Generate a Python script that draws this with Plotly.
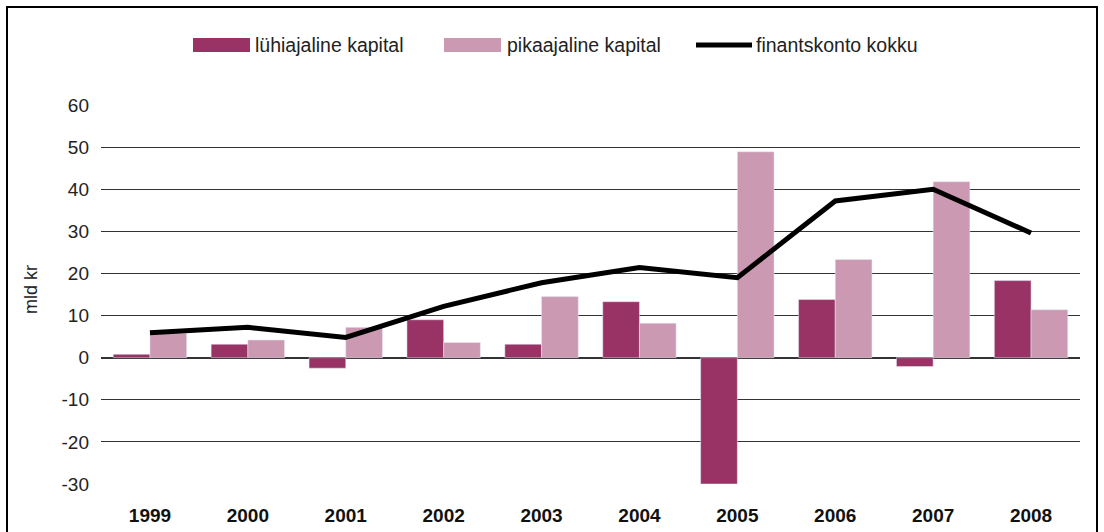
import plotly.graph_objects as go

years = ['1999', '2000', '2001', '2002', '2003', '2004', '2005', '2006', '2007', '2008']
luhiajaline = [0.8, 3.2, -2.5, 9.0, 3.2, 13.3, -30.0, 13.8, -2.1, 18.3]
pikaajaline = [5.8, 4.2, 7.2, 3.6, 14.5, 8.2, 48.9, 23.3, 41.8, 11.4]
finantskonto = [5.9, 7.2, 4.8, 12.2, 17.8, 21.4, 19.0, 37.2, 40.0, 29.6]
y_ticks = [-30, -20, -10, 0, 10, 20, 30, 40, 50, 60]
y_ticktext = ['-30', '-20', '-10', '0', '10', '20', '30', '40', '50', '60']

names = ['lühiajaline kapital', 'pikaajaline kapital', 'finantskonto kokku']
dark = '#993366'
light = '#cc99b3'
font = 'Liberation Sans, Arial, sans-serif'

W, H = 1104, 532
L, R, T, B = 101, 24, 105, 48
pw, ph = W - L - R, H - T - B

def px(x):
    return (x - L) / pw

def py(y):
    return (H - B - y) / ph

fig = go.Figure()
fig.add_trace(go.Bar(x=years, y=luhiajaline, name=names[0], marker_color=dark))
fig.add_trace(go.Bar(x=years, y=pikaajaline, name=names[1], marker_color=light))
fig.add_trace(go.Scatter(x=years, y=finantskonto, name=names[2], mode='lines',
                         line=dict(color='black', width=5)))

shapes = [
    # outer frame
    dict(type='rect', xref='paper', yref='paper', x0=px(7), x1=px(1097), y0=py(560), y1=py(7),
         line=dict(color='black', width=2), fillcolor='rgba(0,0,0,0)', layer='below'),
    # legend swatches
    dict(type='rect', xref='paper', yref='paper', x0=px(193), x1=px(250), y0=py(52), y1=py(38),
         line=dict(width=0), fillcolor=dark),
    dict(type='rect', xref='paper', yref='paper', x0=px(444), x1=px(501), y0=py(52), y1=py(38),
         line=dict(width=0), fillcolor=light),
    dict(type='line', xref='paper', yref='paper', x0=px(696), x1=px(752), y0=py(45), y1=py(45),
         line=dict(color='black', width=5)),
]

leg_font = dict(size=19.5, color='#222')
annotations = [
    dict(text=names[0], x=px(253), y=py(45), xref='paper', yref='paper', xanchor='left',
         yanchor='middle', showarrow=False, font=leg_font),
    dict(text=names[1], x=px(505), y=py(45), xref='paper', yref='paper', xanchor='left',
         yanchor='middle', showarrow=False, font=leg_font),
    dict(text=names[2], x=px(754), y=py(45), xref='paper', yref='paper', xanchor='left',
         yanchor='middle', showarrow=False, font=leg_font),
    dict(text='mld kr', x=px(31), y=py(290), xref='paper', yref='paper', textangle=-90,
         xanchor='center', yanchor='middle', showarrow=False, font=dict(size=18, color='#222')),
]

fig.update_layout(
    width=W, height=H,
    margin=dict(l=L, r=R, t=T, b=B, autoexpand=False),
    paper_bgcolor='white', plot_bgcolor='white',
    font=dict(family=font, color='#222', size=19),
    barmode='group', bargap=0.25, bargroupgap=0,
    showlegend=False,
    shapes=shapes,
    annotations=annotations,
)
fig.update_xaxes(showline=False, showgrid=False, ticks='', ticklabelstandoff=18, automargin=False,
                 tickfont=dict(size=19, color='#111', weight='bold'))
fig.update_yaxes(range=[-30, 60], tickvals=y_ticks, ticktext=y_ticktext, automargin=False,
                 showgrid=True, gridcolor='#333', gridwidth=1,
                 zeroline=True, zerolinecolor='#333', zerolinewidth=1.5,
                 showline=False, ticks='', ticklabelstandoff=11,
                 tickfont=dict(size=19, color='#222'))

fig.write_html('out.html', config={'displayModeBar': False},
               post_script="document.body.style.margin='0';")
